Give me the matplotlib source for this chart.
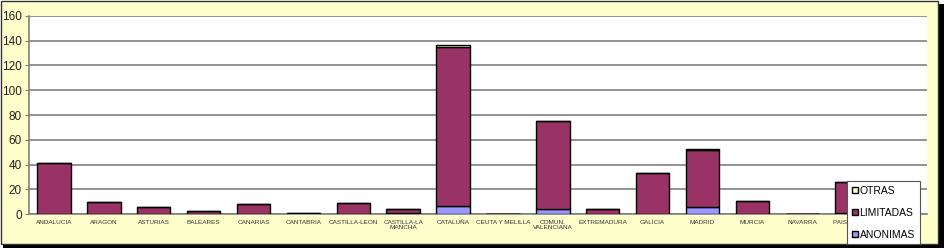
import matplotlib
matplotlib.use("Agg")
import matplotlib.pyplot as plt
from matplotlib.patches import Rectangle
import numpy as np

categories = ["ANDALUCIA", "ARAGON", "ASTURIAS", "BALEARES", "CANARIAS", "CANTABRIA",
              "CASTILLA-LEON", "CASTILLA-LA\nMANCHA", "CATALUÑA", "CEUTA Y MELILLA",
              "COMUN.\nVALENCIANA", "EXTREMADURA", "GALICIA", "MADRID", "MURCIA",
              "NAVARRA", "PAIS VASCO", "RIOJA"]
anonimas  = [0, 0, 0, 0, 0, 0, 0, 1, 7, 0, 4, 0, 0, 6, 0, 0, 1, 0]
limitadas = [41, 10, 6, 3, 8, 1, 9, 3, 128, 0, 71, 4, 33, 46, 11, 0, 25, 0]
otras     = [0, 0, 0, 0, 0, 0, 0, 0, 1, 0, 0, 0, 0, 1, 0, 0, 0, 0]
yticks = [0, 20, 40, 60, 80, 100, 120, 140, 160]

fig = plt.figure(figsize=(9.44, 2.48), dpi=100)
fig.patch.set_facecolor("white")

# chart-area background with border and shadow
fig.patches.append(Rectangle((3/944, 0), 941/944, 1 - 4/248, transform=fig.transFigure,
                             facecolor="black", edgecolor="none", zorder=0))
fig.patches.append(Rectangle((0.5/944, 4/248), 937/944, 1 - 4.5/248, transform=fig.transFigure,
                             facecolor="#FFFFCC", edgecolor="#333333", linewidth=1.0, zorder=1))

ax = fig.add_axes([29/944, 1 - 214.3/248, 898/944, (214.3 - 15.7)/248])
ax.set_zorder(2)
ax.set_facecolor("white")

x = np.arange(len(categories))
w = 0.67
an = np.array(anonimas); li = np.array(limitadas); ot = np.array(otras)
ax.bar(x, an, w, color="#9999FF", edgecolor="black", linewidth=1.0, label="ANONIMAS", zorder=3)
ax.bar(x, li, w, bottom=an, color="#993366", edgecolor="black", linewidth=1.0, label="LIMITADAS", zorder=3)
ax.bar(x, ot, w, bottom=an + li, color="#FFFFCC", edgecolor="black", linewidth=1.0, label="OTRAS", zorder=3)

ax.set_xlim(-0.5, len(categories) - 0.5)
ax.set_ylim(0, 160)
ax.set_yticks(yticks)
ax.set_yticklabels([str(v) for v in yticks], fontsize=8.5, color="#222222", family="Liberation Sans")
ax.yaxis.grid(True, color="#808080", linewidth=1.2)
ax.set_axisbelow(True)
ax.set_xticks(x)
ax.set_xticklabels(categories, fontsize=4.6, color="#333333", family="Liberation Sans", linespacing=1.1)
ax.tick_params(axis="x", length=0, pad=4)
ax.tick_params(axis="y", length=3, color="#808080", pad=2)
for s in ["top", "right"]:
    ax.spines[s].set_visible(False)
ax.spines["left"].set_color("#808080")
ax.spines["bottom"].set_color("#808080")
ax.spines["left"].set_linewidth(1.2)
ax.spines["bottom"].set_linewidth(1.2)

handles, labels = ax.get_legend_handles_labels()
leg = fig.legend(handles[::-1], labels[::-1], loc="upper left",
                 bbox_to_anchor=(847/944, 1 - 181/248),
                 prop={"family": "Liberation Sans", "size": 7.5},
                 frameon=True, fancybox=False, edgecolor="#555555", framealpha=1,
                 handlelength=0.6, handleheight=0.6, handletextpad=0.15,
                 labelspacing=1.15, borderpad=0.45, borderaxespad=0)
leg.get_frame().set_linewidth(0.8)
leg.set_zorder(5)

fig.savefig("out.png", dpi=100)
